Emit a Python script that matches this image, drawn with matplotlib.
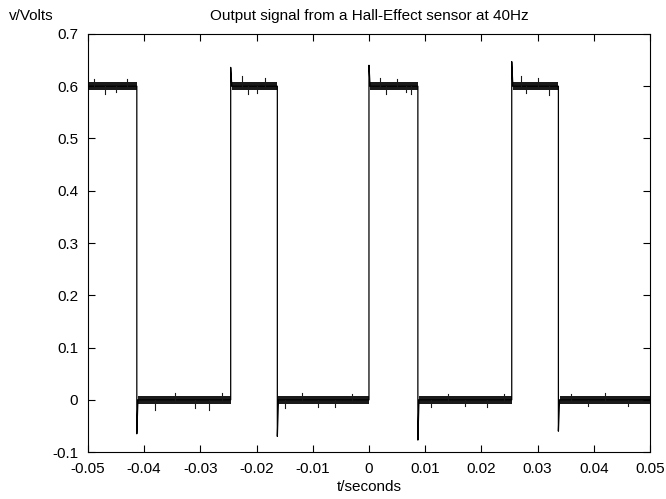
import matplotlib
matplotlib.use("Agg")
import matplotlib.pyplot as plt
import numpy as np

plt.rcParams["font.family"] = ["Liberation Sans", "DejaVu Sans"]

# ---------------------------------------------------------------------------
# Data (seconds / volts)
# ---------------------------------------------------------------------------
HIGH_LEVEL = 0.60
LOW_LEVEL = 0.0
NOISE_HALF = 0.008          # half-height of the dense noise band

# edge times, in order: fall, rise, fall, rise, fall, rise, fall
EDGE_T = [-0.0413, -0.0246, -0.0163, 0.0000, 0.0087, 0.0254, 0.0337]
EDGE_KIND = ["fall", "rise", "fall", "rise", "fall", "rise", "fall"]
# peak of the over/undershoot spike at each edge
EDGE_PEAK = [-0.065, 0.636, -0.070, 0.640, -0.077, 0.647, -0.060]

# visible noise spikes (t, v)
SPIKE_T = [-0.0490, -0.0470, -0.0450, -0.0430, -0.0380, -0.0345, -0.0310,
           -0.0285, -0.0262, -0.0225, -0.0215, -0.0200, -0.0185, -0.0150,
           -0.0120, -0.0090, -0.0060, -0.0030, 0.0020, 0.0030, 0.0050,
           0.0065, 0.0075, 0.0110, 0.0140, 0.0170, 0.0210, 0.0240, 0.0270,
           0.0280, 0.0300, 0.0320, 0.0360, 0.0390, 0.0420, 0.0460]
SPIKE_V = [0.614, 0.586, 0.588, 0.613, -0.020, 0.014, -0.016,
           -0.019, 0.013, 0.620, 0.585, 0.587, 0.616, -0.015,
           0.013, -0.013, -0.014, 0.012, 0.615, 0.586, 0.614,
           0.588, 0.585, -0.013, 0.012, -0.012, -0.014, 0.012, 0.619,
           0.587, 0.615, 0.583, 0.012, -0.012, 0.013, -0.011]

T_MIN, T_MAX = -0.05, 0.05


def build_trace():
    t = [T_MIN]
    v = [HIGH_LEVEL]
    level = HIGH_LEVEL
    for et, kind, peak in zip(EDGE_T, EDGE_KIND, EDGE_PEAK):
        t += [et, et, et + 0.0002]
        new_level = LOW_LEVEL if kind == "fall" else HIGH_LEVEL
        v += [level, peak, new_level]
        level = new_level
    t.append(T_MAX)
    v.append(level)
    return np.array(t), np.array(v)


def segments():
    bounds = [T_MIN] + EDGE_T + [T_MAX]
    levels = [HIGH_LEVEL]
    for kind in EDGE_KIND:
        levels.append(LOW_LEVEL if kind == "fall" else HIGH_LEVEL)
    return [(bounds[i], bounds[i + 1], levels[i]) for i in range(len(levels))]


fig = plt.figure(figsize=(6.66, 4.99), dpi=100)
ax = fig.add_axes([0.132, 0.094, 0.844, 0.838])

t, v = build_trace()
ax.plot(t, v, color="black", linewidth=0.9)

for t0, t1, lvl in segments():
    ax.fill_between([t0 + 0.0002, t1], lvl - NOISE_HALF, lvl + NOISE_HALF,
                    color="#1a1a1a", linewidth=0)

for st, sv in zip(SPIKE_T, SPIKE_V):
    base = HIGH_LEVEL if sv > 0.3 else LOW_LEVEL
    ax.plot([st, st], [base, sv], color="#1a1a1a", linewidth=0.8)

ax.set_xlim(T_MIN, T_MAX)
ax.set_ylim(-0.1, 0.7)
ax.set_xticks(np.arange(-0.05, 0.0501, 0.01))
ax.set_xticklabels(["-0.05", "-0.04", "-0.03", "-0.02", "-0.01", "0",
                    "0.01", "0.02", "0.03", "0.04", "0.05"])
ax.set_yticks(np.arange(-0.1, 0.701, 0.1))
ax.set_yticklabels(["-0.1", "0", "0.1", "0.2", "0.3", "0.4", "0.5",
                    "0.6", "0.7"])
ax.tick_params(direction="in", length=5, width=0.8, labelsize=11,
               top=True, right=True)
ax.tick_params(axis="x", pad=7)
ax.tick_params(axis="y", pad=7)
for sp in ax.spines.values():
    sp.set_linewidth(0.8)

ax.set_title("Output signal from a Hall-Effect sensor at 40Hz", fontsize=11,
             pad=10)
ax.set_xlabel("t/seconds", fontsize=11, labelpad=3)
fig.text(0.013, 0.968, "v/Volts", fontsize=11, ha="left", va="center")

fig.savefig("out.png", dpi=100)
